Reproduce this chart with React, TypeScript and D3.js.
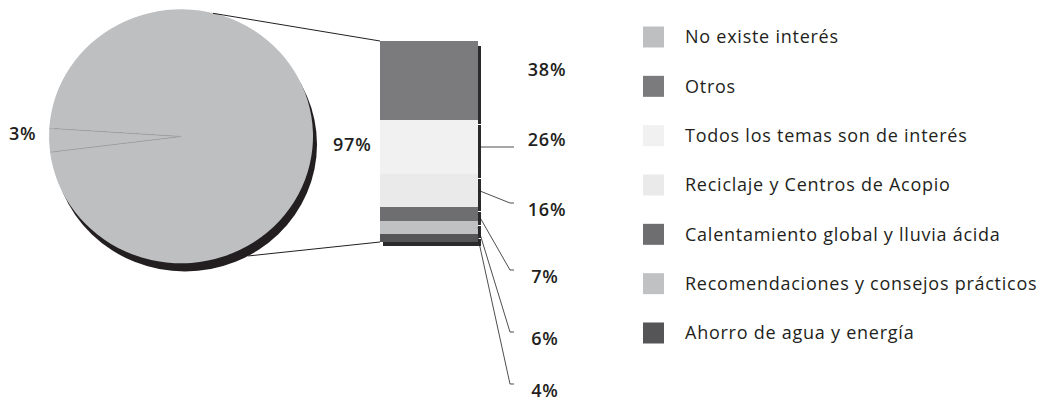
import React from 'react';
import * as d3 from 'd3';

// pie: share with / without interest
const pieNames = ['Con interés', 'No existe interés'];
const pieValues = [97, 3];

// bar of pie: breakdown of the 97%
const barCategories = [
  'Otros',
  'Todos los temas son de interés',
  'Reciclaje y Centros de Acopio',
  'Calentamiento global y lluvia ácida',
  'Recomendaciones y consejos prácticos',
  'Ahorro de agua y energía',
];
const barValues = [38, 26, 16, 7, 6, 4];

const legendLabels = ['No existe interés', ...barCategories];
const legendColors = ['#bebfc1', '#7b7b7d', '#f1f1f1', '#e9eae9', '#6e6e70', '#c0c1c2', '#555557'];

const W = 1040;
const H = 403;
const FONT = '"Open Sans", sans-serif';

// label layout for the bar (y of each label centre)
const labelY = [70, 140, 210, 277, 339, 391];

const App = () => {
  const cx = 181;
  const cy = 136.5;
  const rx = 132;
  const ry = 127;
  const shadowDx = 4;
  const shadowDy = 8;

  const pie = d3
    .pie<number>()
    .sort(null)
    .startAngle(-Math.PI / 2 + 0.03 * Math.PI - 0.03)
    .endAngle(-Math.PI / 2 + 0.03 * Math.PI - 0.03 + 2 * Math.PI);
  const arcs = pie(pieValues);
  const arc = d3.arc<d3.PieArcDatum<number>>().innerRadius(0).outerRadius(1);

  // point on the ellipse at d3 angle a (0 = top, clockwise)
  const ell = (a: number, ox = 0, oy = 0) => [cx + ox + rx * Math.sin(a), cy + oy - ry * Math.cos(a)];

  const small = arcs[1];
  const p1 = ell(small.startAngle);
  const p2 = ell(small.endAngle);

  const barX = 380;
  const barW = 98;
  const y = d3.scaleLinear().domain([0, d3.sum(barValues)]).range([41, 242]);
  const cum = barValues.map((_, i) => d3.sum(barValues.slice(0, i)));
  const yr = (v: number) => Math.round(y(v));

  const topPt = ell(0.245);
  const botPt = ell(Math.PI - 0.5, shadowDx, shadowDy);

  const legendY = d3.scalePoint<string>().domain(legendLabels).range([37, 333]);

  const pctStyle = {
    fontFamily: FONT,
    fontWeight: 600,
    fontSize: 18,
    letterSpacing: 0.8,
    fill: '#231f20',
  };

  return (
    <svg width={W} height={H} style={{ position: 'absolute', left: 0, top: 0, background: '#fff' }}>
      {/* pie shadow */}
      <ellipse cx={cx + shadowDx} cy={cy + shadowDy} rx={rx} ry={ry} fill="#231f20" />
      <g transform={`translate(${cx},${cy}) scale(${rx},${ry})`}>
        {arcs.map((a, i) => (
          <path key={pieNames[i]} d={arc(a) || ''} fill="#bebfc1" />
        ))}
      </g>
      <line x1={cx} y1={cy} x2={p1[0]} y2={p1[1]} stroke="#a3a4a6" strokeWidth={0.8} />
      <line x1={cx} y1={cy} x2={p2[0]} y2={p2[1]} stroke="#a3a4a6" strokeWidth={0.8} />

      {/* connectors */}
      <line x1={topPt[0]} y1={topPt[1]} x2={barX} y2={y(0)} stroke="#231f20" strokeWidth={1} />
      <line x1={botPt[0]} y1={botPt[1]} x2={barX} y2={y(d3.sum(barValues))} stroke="#231f20" strokeWidth={1} />

      {/* bar shadows */}
      {barValues.map((v, i) => (
        <rect
          key={`s${i}`}
          x={barX + 3}
          y={yr(cum[i]) + 5}
          width={barW}
          height={Math.max(0, yr(cum[i] + v) - yr(cum[i]) - 1)}
          fill="#2a2a2c"
        />
      ))}
      <g shapeRendering="crispEdges">
        {barValues.map((v, i) => (
          <rect
            key={barCategories[i]}
            x={barX}
            y={yr(cum[i])}
            width={barW}
            height={yr(cum[i] + v) - yr(cum[i])}
            fill={legendColors[i + 1]}
          />
        ))}
      </g>

      {/* leader lines */}
      {barValues.map((v, i) => {
        if (i === 0) return null;
        const sx = barX + barW;
        const sy = i === 1 ? labelY[i] + 7 : (y(cum[i]) + y(cum[i] + v)) / 2;
        const ey = i === 1 ? labelY[i] + 7 : labelY[i] - 7;
        const ex = 510;
        return (
          <polyline
            key={`l${i}`}
            points={`${sx},${sy} ${ex},${ey} ${ex + 4},${ey}`}
            fill="none"
            stroke="#231f20"
            strokeWidth={0.8}
          />
        );
      })}

      {/* labels */}
      {barValues.map((v, i) => (
        <text key={`t${i}`} x={i >= 3 ? 545 : 547} y={labelY[i]} dy="0.35em" textAnchor="middle" style={pctStyle}>
          {`${v}%`}
        </text>
      ))}
      <text x={333} y={145} dy="0.35em" style={pctStyle}>
        {`${pieValues[0]}%`}
      </text>
      <text x={9} y={134} dy="0.35em" style={pctStyle}>
        {`${pieValues[1]}%`}
      </text>

      {/* legend */}
      {legendLabels.map((l, i) => (
        <g key={l} transform={`translate(0,${legendY(l)})`}>
          <rect x={643} y={-10.5} width={21} height={21} fill={legendColors[i]} />
          <text
            x={685}
            dy="0.35em"
            fontFamily={FONT}
            fontWeight={500}
            fontSize={18}
            letterSpacing={0.75}
            fill="#231f20"
          >
            {l}
          </text>
        </g>
      ))}
    </svg>
  );
};

export default App;
